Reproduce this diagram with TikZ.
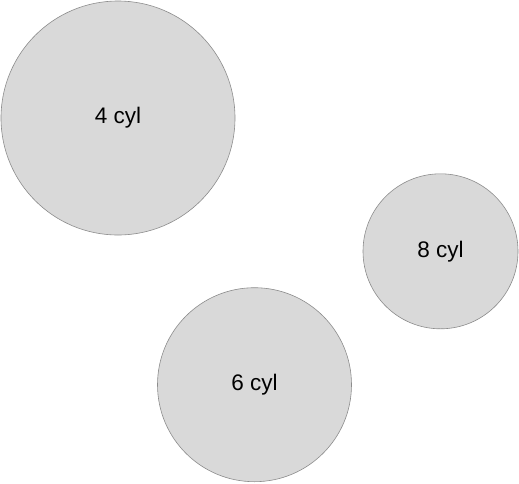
\documentclass[tikz,border=0pt]{standalone}
\usepackage{fontspec}
\setmainfont{Liberation Sans}
\definecolor{cfill}{HTML}{D9D9D9}
\definecolor{cline}{HTML}{8C8C8C}
\tikzset{
  cylnode/.style={circle, draw=cline, fill=cfill, line width=0.6pt, inner sep=0pt,
    font=\fontsize{22.5}{27}\selectfont, text=black}
}
\begin{document}
\begin{tikzpicture}[x=1pt,y=-1pt]
\useasboundingbox (0,0) rectangle (519,483);
\node[cylnode, minimum size=234pt] (c4) at (118,118) {4 cyl};
\node[cylnode, minimum size=155pt] (c8) at (440.5,251.3) {8 cyl};
\node[cylnode, minimum size=194pt] (c6) at (254.5,384.7) {6 cyl};
\end{tikzpicture}
\end{document}
